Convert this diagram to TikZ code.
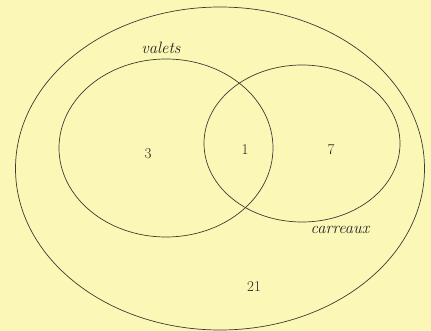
\documentclass[tikz,border=0pt]{standalone}
\usepackage{tikz}
\usetikzlibrary{shapes.geometric}
\definecolor{bg}{RGB}{251,247,183}
\definecolor{ink}{RGB}{60,60,50}
\definecolor{txt}{RGB}{35,35,30}
\begin{document}
\begin{tikzpicture}[x=1pt,y=-1pt,
  setline/.style={draw=ink,line width=0.7pt},
  lab/.style={font=\fontsize{16.5}{19}\selectfont\itshape,text=txt},
  num/.style={font=\fontsize{15}{18}\selectfont,text=txt}]
\fill[bg] (0,0) rectangle (431,331);
\useasboundingbox (0,0) rectangle (431,331);
\node[setline,ellipse,minimum width=409pt,minimum height=323pt,inner sep=0pt] (U) at (220,168.5) {};
\node[setline,ellipse,minimum width=214pt,minimum height=178pt,inner sep=0pt] (V) at (166,148) {};
\node[setline,ellipse,minimum width=196pt,minimum height=157pt,inner sep=0pt] (C) at (302,143.5) {};
\node[lab] (lv) at (161,48) {valets};
\node[lab] (lc) at (340,230) {carreaux};
\node[num] (n3) at (148,154) {3};
\node[num] (n1) at (245,150) {1};
\node[num] (n7) at (331,150) {7};
\node[num] (n21) at (254,287) {21};
\end{tikzpicture}
\end{document}
